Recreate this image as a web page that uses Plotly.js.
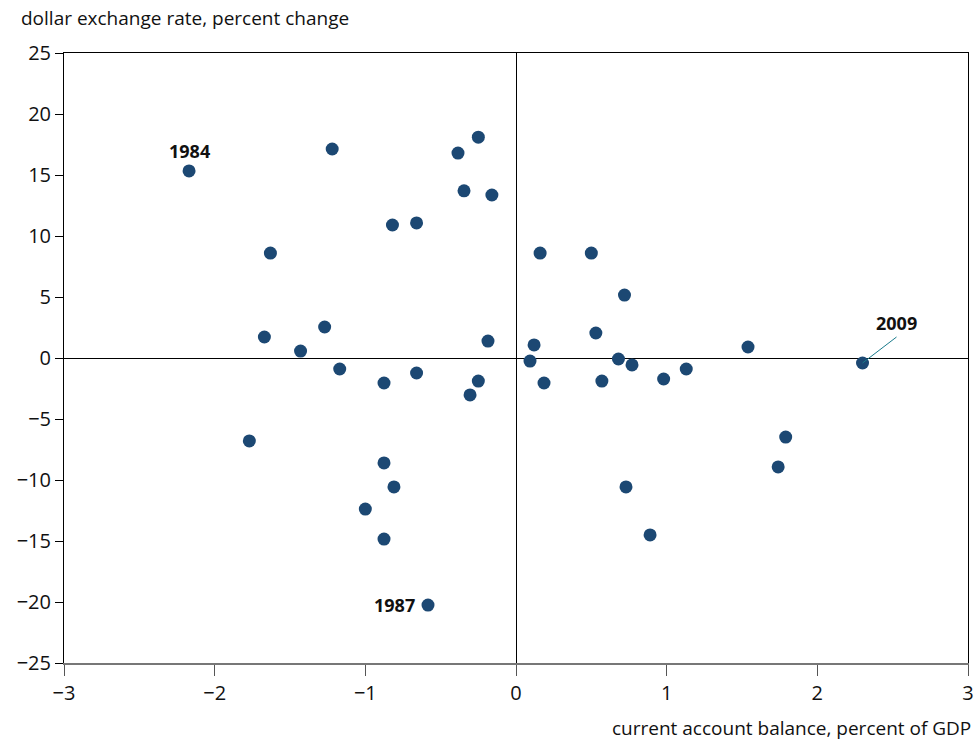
<!DOCTYPE html>
<html><head><meta charset="utf-8">
<script src="https://cdn.plot.ly/plotly-3.0.1.min.js"></script>
<style>body{margin:0;background:#fff}#chart{width:974px;height:746px}</style>
</head><body><div id="chart"></div>
<script>
var currentAccount = [-2.17,-1.22,-0.385,-0.25,-0.345,-0.16,-0.82,-0.66,-1.63,0.16,0.50,0.72,-1.27,-1.67,-1.43,-0.186,0.12,0.53,1.54,2.30,0.093,0.68,0.77,-1.17,-0.66,-0.876,-0.25,0.186,0.57,0.98,1.13,-0.305,-1.77,1.79,1.74,-0.876,-0.81,0.73,-1.0,-0.876,0.89,-0.584];
var exchangeRate = [15.33,17.13,16.8,18.1,13.7,13.36,10.9,11.07,8.6,8.6,8.6,5.16,2.54,1.72,0.57,1.39,1.07,2.05,0.9,-0.41,-0.25,-0.08,-0.57,-0.9,-1.23,-2.05,-1.89,-2.05,-1.89,-1.72,-0.9,-3.03,-6.8,-6.48,-8.93,-8.6,-10.57,-10.57,-12.38,-14.84,-14.5,-20.25];
var labelYears = ['1984','1987','2009'];
var labelIdx = [0,41,19];
var xTicks = [-3,-2,-1,0,1,2,3];
var xTickText = ['\u22123','\u22122','\u22121','0','1','2','3'];
var yTicks = [-25,-20,-15,-10,-5,0,5,10,15,20,25];
var yTickText = ['\u221225','\u221220','\u221215','\u221210','\u22125','0','5','10','15','20','25'];

var font = 'Open Sans, Liberation Sans, sans-serif';
var trace = {
  x: currentAccount, y: exchangeRate, mode: 'markers', type: 'scatter',
  marker: {color: '#1c4873', size: 13}, hoverinfo: 'skip'
};
var ann = [
  {x: currentAccount[labelIdx[0]], y: exchangeRate[labelIdx[0]], text: '<b>'+labelYears[0]+'</b>', showarrow: false, xanchor: 'center', yanchor: 'bottom', yshift: 6, font: {family: font, size: 18, color: '#111'}},
  {x: currentAccount[labelIdx[1]], y: exchangeRate[labelIdx[1]], text: '<b>'+labelYears[1]+'</b>', showarrow: false, xanchor: 'right', yanchor: 'middle', xshift: -11, font: {family: font, size: 18, color: '#111'}},
  {x: currentAccount[labelIdx[2]], y: exchangeRate[labelIdx[2]], text: '<b>'+labelYears[2]+'</b>', showarrow: true, arrowhead: 0, arrowwidth: 1, arrowcolor: '#1a7b8c', ax: 34, ay: -26, xanchor: 'center', yanchor: 'bottom', standoff: 0, font: {family: font, size: 18, color: '#111'}},
  {xref: 'paper', yref: 'paper', x: 1.005, y: -0.1066, xanchor: 'right', yanchor: 'middle', showarrow: false, text: 'current account balance, percent of GDP', font: {family: font, size: 19, color: '#111'}},
  {xref: 'paper', yref: 'paper', x: -0.05, y: 1.058, xanchor: 'left', yanchor: 'middle', showarrow: false, text: 'dollar exchange rate, percent change', font: {family: font, size: 19, color: '#111'}}
];
var layout = {
  width: 974, height: 746,
  margin: {l: 64, r: 6, t: 53, b: 83},
  paper_bgcolor: '#fff', plot_bgcolor: '#fff',
  showlegend: false,
  font: {family: font, size: 20, color: '#111'},
  xaxis: {range: [-3, 3], tickvals: xTicks, ticktext: xTickText, showgrid: false,
    zeroline: true, zerolinecolor: '#000', zerolinewidth: 1,
    showline: true, linecolor: '#777', linewidth: 2, mirror: false,
    ticks: 'outside', ticklen: 11, tickcolor: '#555', tickwidth: 1,
    tickfont: {family: font, size: 20, color: '#111'}, fixedrange: true},
  xaxis2: {overlaying: 'x', side: 'top', range: [-3,3], showline: true, linecolor: '#000', linewidth: 1, showticklabels: false, ticks: '', showgrid: false, zeroline: false},
  yaxis: {range: [-25, 25], tickvals: yTicks, ticktext: yTickText, showgrid: false,
    zeroline: true, zerolinecolor: '#000', zerolinewidth: 1,
    showline: true, linecolor: '#000', linewidth: 1, mirror: true,
    ticks: 'outside', ticklen: 8, tickcolor: '#000', tickwidth: 1,
    tickfont: {family: font, size: 20, color: '#111'}, fixedrange: true},
  annotations: ann
};
var topLine = {x: [-3, 3], y: [null, null], xaxis: 'x2', type: 'scatter', mode: 'lines', hoverinfo: 'skip'};
Plotly.newPlot('chart', [topLine, trace], layout, {displayModeBar: false, staticPlot: true});
</script></body></html>
